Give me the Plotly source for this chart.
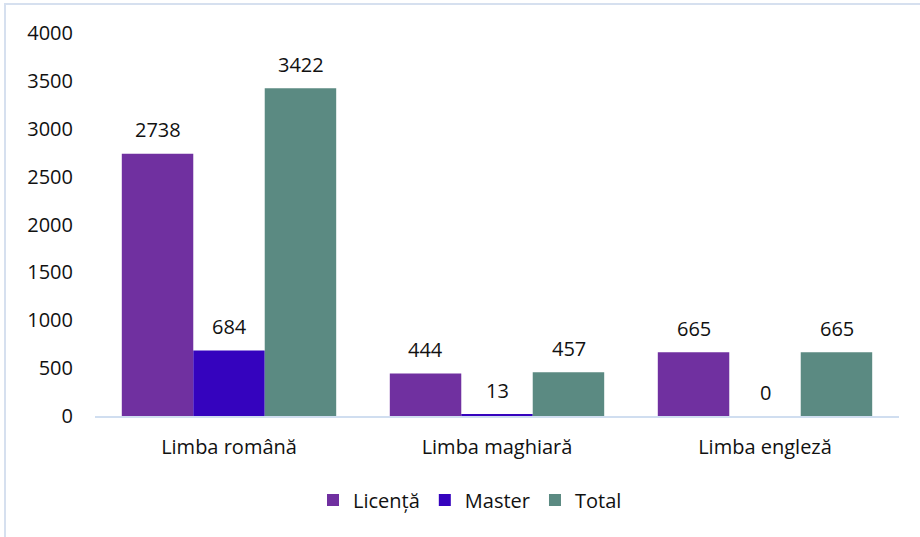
import plotly.graph_objects as go

categories = ["Limba română", "Limba maghiară", "Limba engleză"]
series_names = ["Licență", "Master", "Total"]
licenta = [2738, 444, 665]
master = [684, 13, 0]
total = [3422, 457, 665]
colors = ["#7030A0", "#3503BE", "#5B8A82"]
y_ticks = [0, 500, 1000, 1500, 2000, 2500, 3000, 3500, 4000]

values = [licenta, master, total]
FONT = "Open Sans"
FS = 20
TXT = "#111111"

fig = go.Figure()
for name, vals, col in zip(series_names, values, colors):
    fig.add_trace(go.Bar(x=categories, y=vals, name=name, marker_color=col,
                         marker_line_width=0))

# data labels above bars
shifts = [-71.5, 0, 71.5]
for vals, xs in zip(values, shifts):
    for c, v in zip(categories, vals):
        fig.add_annotation(x=c, y=v, xref="x", yref="y", text=str(v),
                           showarrow=False, xshift=xs, yshift=24, yanchor="middle",
                           font=dict(family=FONT, size=FS, color=TXT))

L, R, T, B = 95, 21, 33, 121
W, H = 920, 537
pw, ph = W - L - R, H - T - B
fig.add_shape(type="rect", xref="paper", yref="paper",
              x0=(5 - L) / pw, x1=(W + 10 - L) / pw,
              y0=-(H + 10 - T - ph) / ph, y1=1 + (T - 4) / ph,
              line=dict(color="#D6E0EF", width=2), fillcolor="rgba(0,0,0,0)", layer="below")

fig.update_layout(
    width=W, height=H,
    margin=dict(l=L, r=R, t=T, b=B),
    paper_bgcolor="white", plot_bgcolor="white",
    barmode="group", bargap=0.2, bargroupgap=0,
    font=dict(family=FONT, size=FS, color=TXT),
    showlegend=True,
    legend=dict(orientation="h", x=(470 - L) / pw, xanchor="center",
                y=-(500 - (T + ph)) / ph, yanchor="middle",
                font=dict(family=FONT, size=FS, color=TXT), itemwidth=30),
    xaxis=dict(showgrid=False, showline=True, linecolor="#D0DEF0", linewidth=2,
               ticks="", ticklabelstandoff=12, tickfont=dict(family=FONT, size=FS)),
    yaxis=dict(range=[0, 4000], tickvals=y_ticks, showgrid=False, showline=False,
               zeroline=False, ticks="", ticklabelstandoff=21,
               tickfont=dict(family=FONT, size=FS)),
)

fig.write_html("out.html", config={"displayModeBar": False},
               post_script="document.body.style.margin='0';")
